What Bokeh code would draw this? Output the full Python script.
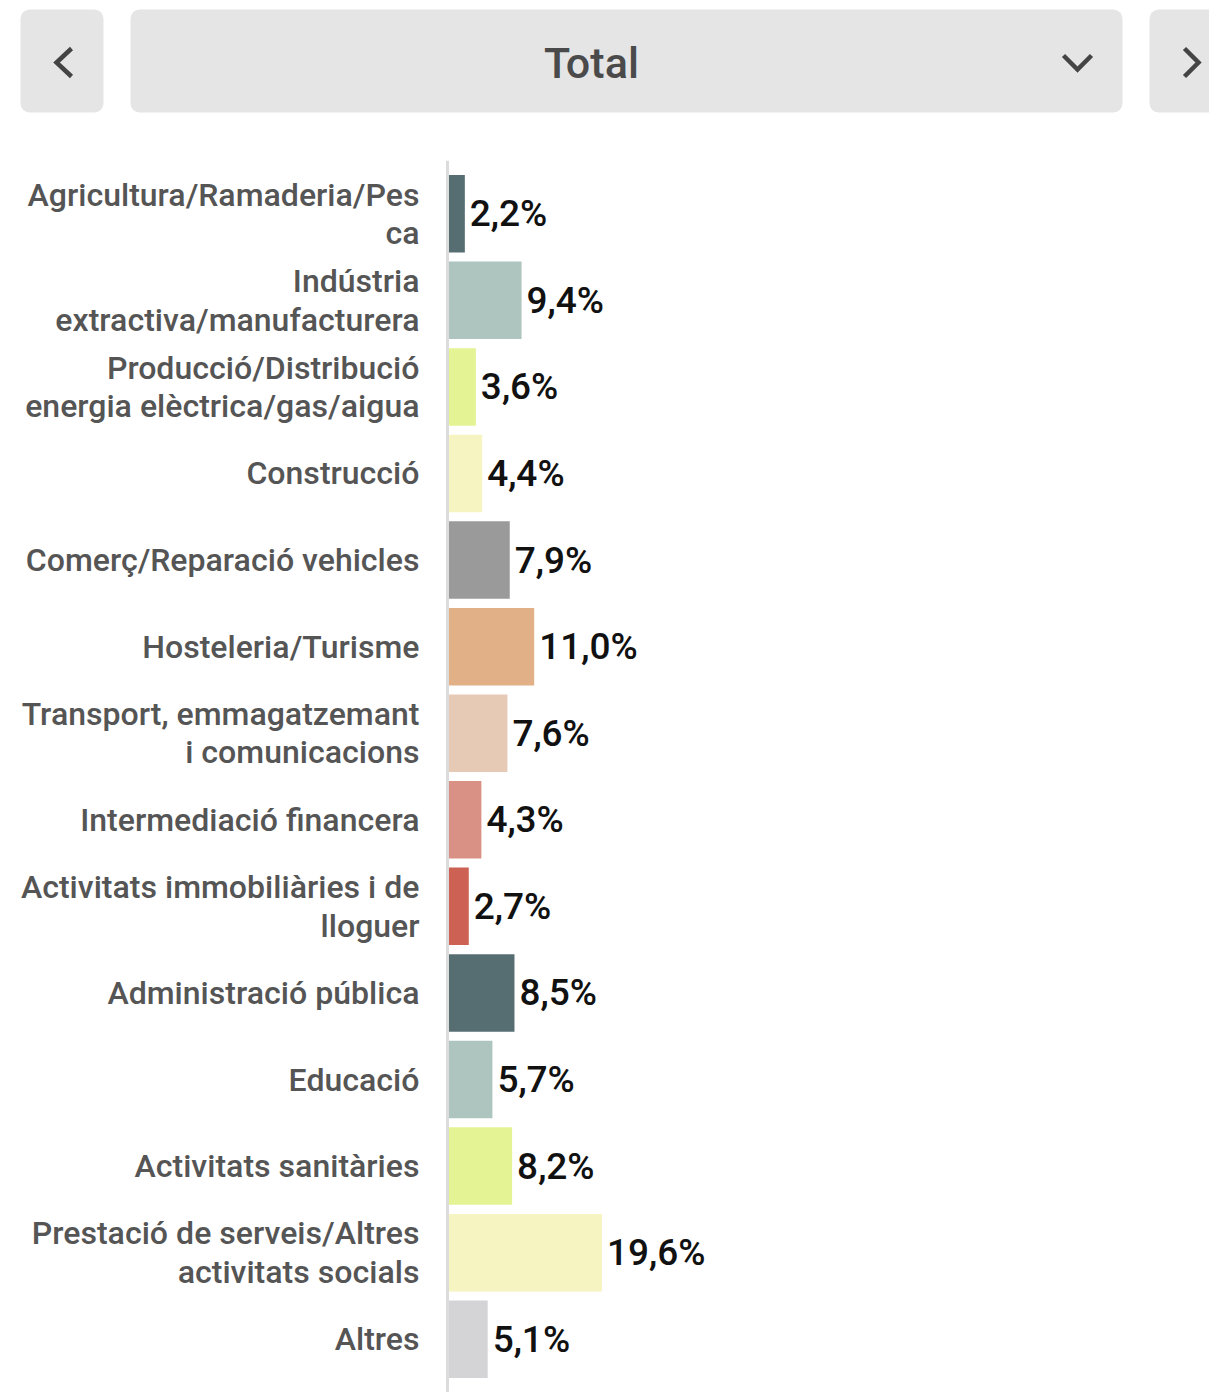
from bokeh.plotting import figure
from bokeh.models import Range1d, FactorRange, Span, ColumnDataSource
from bokeh.layouts import column
from bokeh.core.properties import value
from bokeh.embed import file_html
from bokeh.resources import INLINE

# ---------------- data ----------------
categories = [
    "Agricultura/Ramaderia/Pesca",
    "Indústria extractiva/manufacturera",
    "Producció/Distribució energia elèctrica/gas/aigua",
    "Construcció",
    "Comerç/Reparació vehicles",
    "Hosteleria/Turisme",
    "Transport, emmagatzemant i comunicacions",
    "Intermediació financera",
    "Activitats immobiliàries i de lloguer",
    "Administració pública",
    "Educació",
    "Activitats sanitàries",
    "Prestació de serveis/Altres activitats socials",
    "Altres",
]
label_lines = [
    "Agricultura/Ramaderia/Pes\nca",
    "Indústria\nextractiva/manufacturera",
    "Producció/Distribució\nenergia elèctrica/gas/aigua",
    "Construcció",
    "Comerç/Reparació vehicles",
    "Hosteleria/Turisme",
    "Transport, emmagatzemant\ni comunicacions",
    "Intermediació financera",
    "Activitats immobiliàries i de\nlloguer",
    "Administració pública",
    "Educació",
    "Activitats sanitàries",
    "Prestació de serveis/Altres\nactivitats socials",
    "Altres",
]
values = [2.2, 9.4, 3.6, 4.4, 7.9, 11.0, 7.6, 4.3, 2.7, 8.5, 5.7, 8.2, 19.6, 5.1]
colors = [
    "#566e72", "#aec5bf", "#e4f495", "#f6f4c0", "#9a9a9a", "#e2b087", "#e6cab5",
    "#d99186", "#cc6154", "#566e72", "#aec5bf", "#e4f495", "#f6f4c0", "#d4d4d6",
]
selector_title = "Total"

FONT = value("Roboto Medium")
W = 1209
HDR_H = 120

# ---------------- header (selector bar) ----------------
hdr = figure(width=W, height=HDR_H, output_backend="svg", toolbar_location=None,
             x_range=Range1d(0, W), y_range=Range1d(HDR_H, 0),
             min_border=0, outline_line_color=None)
hdr.axis.visible = False
hdr.grid.visible = False
hdr.quad(left=[20, 130, 1149], right=[103, 1122, 1260], top=[9, 9, 9], bottom=[112, 112, 112],
         fill_color="#e5e5e5", line_color=None, border_radius=9)
hdr.multi_line(xs=[[71, 56, 71], [1063, 1077, 1091], [1184, 1198, 1184]],
               ys=[[48, 62, 76], [55, 69, 55], [48, 62, 76]],
               line_color="#444444", line_width=4.5, line_join="miter")
hdr.text(x=[591], y=[62], text=[selector_title], text_font=FONT, text_font_size="43px",
         text_color="#4a4a4a", text_align="center", text_baseline="middle")

# ---------------- bar chart ----------------
H = 1392 - HDR_H
top_border = 40
pad = 0.1155
px_per_unit = 7.88
zero_px = 447
x_start = -zero_px / px_per_unit
x_end = (W - zero_px) / px_per_unit

src = ColumnDataSource(dict(
    cat=categories, val=values, color=colors, lab=label_lines,
    vlab=[f"{v:.1f}%".replace(".", ",") for v in values],
    zero=[0] * len(values),
))

p = figure(width=W, height=H, output_backend="svg", toolbar_location=None,
           y_range=FactorRange(factors=list(reversed(categories)),
                               range_padding=pad, range_padding_units="absolute"),
           x_range=Range1d(x_start, x_end),
           min_border_left=0, min_border_right=0,
           min_border_top=top_border, min_border_bottom=0,
           outline_line_color=None)
p.axis.visible = False
p.grid.visible = False

p.hbar(y="cat", left=0, right="val", height=0.895, fill_color="color",
       line_color=None, source=src)
p.add_layout(Span(location=0, dimension="height", line_color="#dcdcdc", line_width=3))

p.text(x="zero", y="cat", text="lab", source=src, x_offset=-28,
       text_align="right", text_baseline="middle", text_font=FONT,
       text_font_size="32px", text_color="#555555", text_line_height=1.01)
p.text(x="val", y="cat", text="vlab", source=src, x_offset=5,
       text_align="left", text_baseline="middle", text_font=FONT,
       text_font_size="37px", text_color="#111111")

layout = column(hdr, p, spacing=0)
open("out.html", "w").write(file_html(layout, INLINE))
